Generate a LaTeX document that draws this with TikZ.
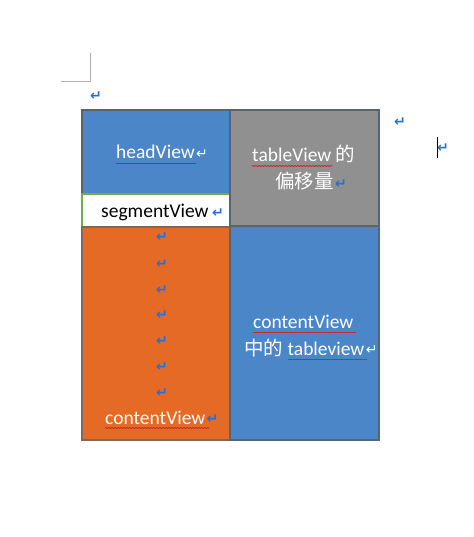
\documentclass[tikz,border=0pt]{standalone}
\usepackage{fontspec}
\setmainfont{Carlito}
\newfontfamily\cjk{Noto Sans CJK SC}
\newfontfamily\symf{DejaVu Sans}[BoldFont={DejaVu Sans Bold}]
\usetikzlibrary{decorations.pathmorphing}
\definecolor{wblue}{RGB}{74,134,200}
\definecolor{worange}{RGB}{228,106,38}
\definecolor{wgray}{RGB}{144,144,144}
\definecolor{wborder}{RGB}{90,100,112}
\definecolor{wgreen}{RGB}{112,173,71}
\definecolor{wret}{RGB}{40,110,210}
\definecolor{wsquig}{RGB}{200,40,40}
\definecolor{wsquigp}{RGB}{120,60,120}
\newcommand{\ret}{{\symf\bfseries\color{wret}\fontsize{14}{14}\selectfont ↵}}
\newcommand{\retw}{{\symf\color{white}\fontsize{14}{14}\selectfont ↵}}
\begin{document}
\begin{tikzpicture}[x=1pt,y=-1pt,
  box/.style={draw=wborder,line width=1.5pt},
  lbl/.style={inner sep=0pt,anchor=base west,font=\fontsize{19.5}{21}\selectfont},
  retm/.style={inner sep=0pt,anchor=center},
  squig/.style={wsquig,line width=0.8pt,decorate,decoration={snake,amplitude=0.5pt,segment length=3pt}}]
\useasboundingbox[fill=white] (0,0) rectangle (473,537);
% page corner mark
\coordinate (c1) at (61,81);
\coordinate (c2) at (90,81);
\coordinate (c3) at (90,53);
\draw[gray!60,line width=0.8pt] (c1) -- (c2) -- (c3);
\node[retm] (r0) at (96,96) {\ret};
% boxes
\path[box,fill=wblue] (82,110) rectangle (230,194);
\path[draw=wgreen,line width=1.5pt,fill=white] (82,194) rectangle (230,227);
\path[box,draw=wborder!70!worange,fill=worange] (82,227) rectangle (230,440);
\path[box,fill=wgray] (230,110) rectangle (379,226);
\path[box,fill=wblue] (230,226) rectangle (379,440);
% headView
\node[lbl,text=white] (hv) at (116,159) {headView};
\node[retm,anchor=west] (hvr) at ([xshift=1pt,yshift=5pt]hv.base east) {\retw};
\draw[wsquigp,line width=0.9pt] ([yshift=-4pt]hv.base west) -- ++(80,0);
% segmentView
\node[lbl,text=black] (sv) at (101,218) {segmentView};
\node[retm,anchor=west] (svr) at ([xshift=3pt,yshift=5pt]sv.base east) {\ret};
% tableView offset
\node[lbl,text=white] (tv1) at (252,162) {tableView {\cjk 的}};
\node[lbl,text=white] (tv2) at (275,189) {\cjk 偏移量};
\node[retm,anchor=west] (tvr) at ([xshift=1pt,yshift=5pt]tv2.base east) {\ret};
\draw[squig] ([yshift=-4pt]tv1.base west) -- ++(80,0);
% orange returns
\foreach \yy [count=\i] in {237,264,290,315,341,367,393}
  \node[retm] (or\i) at (162,\yy) {\ret};
\node[lbl,text=white] (cv) at (105,424) {contentView};
\node[retm,anchor=west] (cvr) at ([xshift=1pt,yshift=5pt]cv.base east) {\ret};
\draw[squig] ([yshift=-4pt]cv.base west) -- ++(104,0);
% right content
\node[lbl,text=white] (cv2) at (253,328) {contentView};
\node[lbl,text=white] (cv3) at (244,355) {{\cjk 中的} tableview};
\node[retm,anchor=west] (cv3r) at ([xshift=1pt,yshift=5pt]cv3.base east) {\retw};
\draw[wsquig,line width=1pt] ([yshift=-4pt]cv2.base west) -- ++(103,0);
\draw[wsquig,line width=1pt] ([xshift=44pt,yshift=-4pt]cv3.base west) -- ++(79,0);
% outside returns and cursor
\node[retm] (ro1) at (400,122) {\ret};
\node[retm] (ro2) at (443,148) {\ret};
\coordinate (k1) at (437,137);
\coordinate (k2) at (437,158);
\draw[black,line width=0.8pt] (k1) -- (k2);
\end{tikzpicture}
\end{document}
